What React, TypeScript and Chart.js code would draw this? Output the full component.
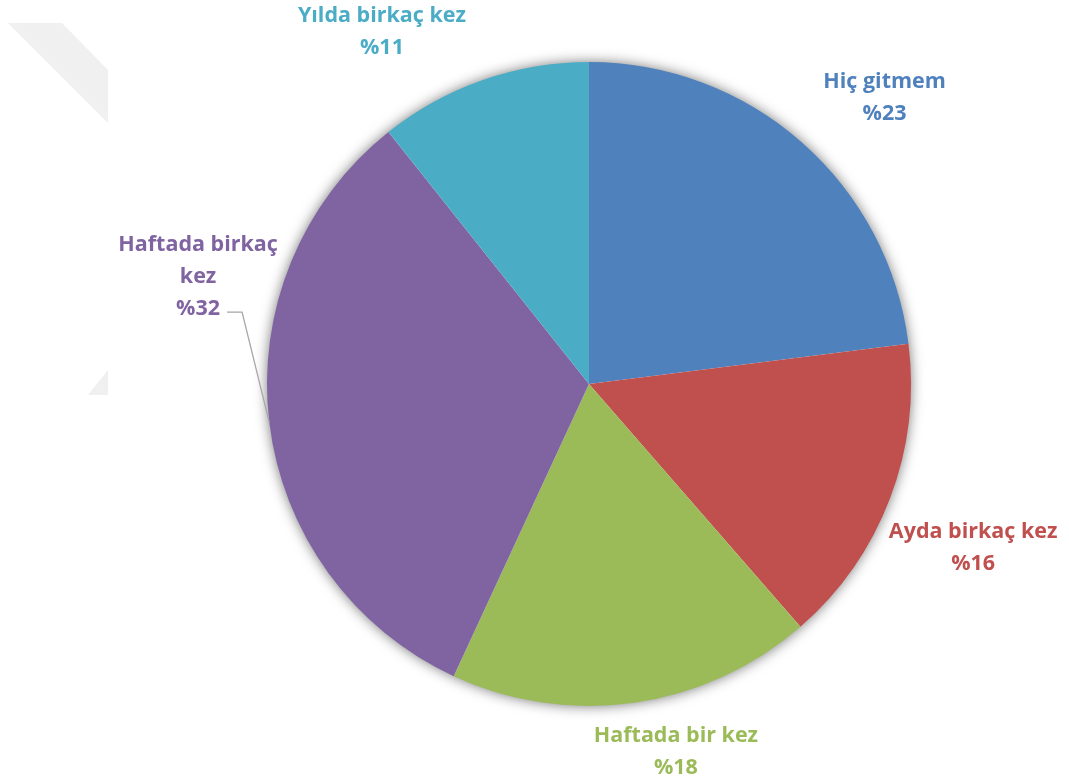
import React, { useEffect, useRef } from "react";
import { Chart, registerables } from "chart.js";

Chart.register(...registerables);

const categories = ["Hiç gitmem", "Ayda birkaç kez", "Haftada bir kez", "Haftada birkaç kez", "Yılda birkaç kez"];
const values = [23.0, 15.6, 18.3, 32.4, 10.7];
const colors = ["#4F81BD", "#C0504D", "#9BBB59", "#8064A2", "#4BACC6"];
const labelLines = [["Hiç gitmem"], ["Ayda birkaç kez"], ["Haftada bir kez"], ["Haftada birkaç", "kez"], ["Yılda birkaç kez"]];
// label block centre, as multiples of the pie radius from the pie centre
const labelOffsets = [[0.918, -0.888], [1.193, 0.509], [0.27, 1.143], [-1.214, -0.332], [-0.643, -1.093]];
const leaderLabels = [3];

const FONT = "bold 21.5px 'Open Sans', sans-serif";
const LINE_H = 32;

const decorPlugin = {
  id: "decor",
  beforeDraw(chart: any) {
    const ctx = chart.ctx;
    ctx.save();
    ctx.fillStyle = "#f0f0f0";
    ctx.beginPath();
    ctx.moveTo(8, 23);
    ctx.lineTo(62, 23);
    ctx.lineTo(108, 70);
    ctx.lineTo(108, 123);
    ctx.closePath();
    ctx.fill();
    ctx.beginPath();
    ctx.moveTo(108, 370);
    ctx.lineTo(108, 395);
    ctx.lineTo(88, 395);
    ctx.closePath();
    ctx.fill();
    ctx.restore();
  },
  beforeDatasetsDraw(chart: any) {
    const arc = chart.getDatasetMeta(0).data[0];
    if (!arc) return;
    const ctx = chart.ctx;
    ctx.save();
    ctx.shadowColor = "rgba(0,0,0,0.6)";
    ctx.shadowBlur = 14;
    ctx.fillStyle = "#ffffff";
    ctx.beginPath();
    ctx.arc(arc.x, arc.y, arc.outerRadius - 1, 0, Math.PI * 2);
    ctx.fill();
    ctx.restore();
  },
  afterDatasetsDraw(chart: any) {
    const meta = chart.getDatasetMeta(0);
    const ctx = chart.ctx;
    const total = values.reduce((a, b) => a + b, 0);
    ctx.save();
    ctx.font = FONT;
    ctx.textAlign = "center";
    ctx.textBaseline = "middle";
    meta.data.forEach((arc: any, i: number) => {
      const r = arc.outerRadius;
      const cx = arc.x + labelOffsets[i][0] * r;
      const cy = arc.y + labelOffsets[i][1] * r;
      const lines = [...labelLines[i], "%" + Math.round((values[i] / total) * 100)];
      const top = cy - ((lines.length - 1) * LINE_H) / 2;
      ctx.fillStyle = colors[i];
      lines.forEach((t, k) => ctx.fillText(t, cx, top + k * LINE_H));
      if (leaderLabels.includes(i)) {
        const last = lines[lines.length - 1];
        const w = ctx.measureText(last).width;
        const ly = top + (lines.length - 1) * LINE_H + 3;
        const x0 = cx + w / 2 + 7;
        const mid = (arc.startAngle + arc.endAngle) / 2;
        const ex = arc.x + Math.cos(mid) * r;
        const ey = arc.y + Math.sin(mid) * r;
        ctx.strokeStyle = "#a6a6a6";
        ctx.lineWidth = 1.3;
        ctx.beginPath();
        ctx.moveTo(x0, ly);
        ctx.lineTo(x0 + 15, ly);
        ctx.lineTo(ex, ey);
        ctx.stroke();
      }
    });
    ctx.restore();
  },
};

export default function App() {
  const ref = useRef<HTMLCanvasElement>(null);
  useEffect(() => {
    document.body.style.margin = "0";
    const chart = new Chart(ref.current!, {
      type: "pie",
      data: {
        labels: categories,
        datasets: [{ data: values, backgroundColor: colors, borderWidth: 0 }],
      },
      options: {
        animation: false,
        responsive: true,
        maintainAspectRatio: false,
        layout: { padding: { left: 267, right: 158, top: 62, bottom: 78 } },
        plugins: { legend: { display: false }, tooltip: { enabled: false } },
      },
      plugins: [decorPlugin],
    });
    return () => chart.destroy();
  }, []);
  return (
    <div style={{ position: "absolute", left: 0, top: 0, width: 1069, height: 784, background: "#fff" }}>
      <canvas ref={ref} />
    </div>
  );
}
